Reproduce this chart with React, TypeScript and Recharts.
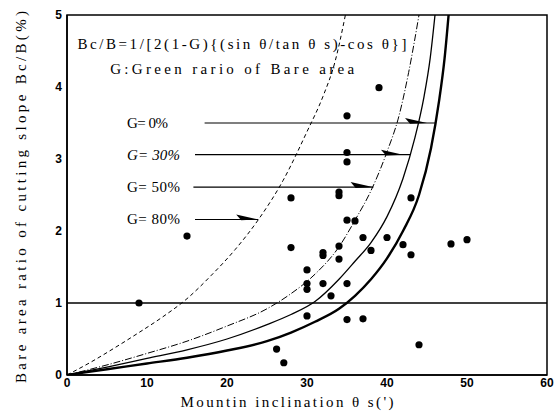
import React from 'react';
import {
  ComposedChart,
  Line,
  Scatter,
  XAxis,
  YAxis,
  ReferenceLine,
  ReferenceArea,
  ReferenceDot,
  Label,
} from 'recharts';

// axis ticks
const xTicks = [0, 10, 20, 30, 40, 50, 60];
const yTicks = [0, 1, 2, 3, 4, 5];

// curves, [θs, Bc/B]
const curveG0 = [[0, 0], [5, 0.08], [10, 0.16], [15, 0.24], [20, 0.34], [25, 0.47], [28, 0.59], [31, 0.74], [34, 0.92], [36, 1.1], [38, 1.33], [40, 1.62], [42, 2.0], [44, 2.5], [45.5, 3.15], [46.5, 3.8], [47.2, 4.4], [47.7, 5.0]];
const curveG30 = [[0, 0], [5, 0.11], [10, 0.23], [15, 0.35], [20, 0.5], [25, 0.7], [28, 0.84], [31, 1.02], [34, 1.33], [36, 1.58], [38, 1.84], [40, 2.2], [42, 2.73], [43.5, 3.3], [44.6, 3.85], [45.4, 4.4], [46, 5.0]];
const curveG50 = [[0, 0], [5, 0.14], [10, 0.3], [15, 0.47], [20, 0.68], [25, 0.92], [28, 1.13], [31, 1.4], [34, 1.78], [36, 2.15], [38, 2.56], [40, 3.1], [41.5, 3.6], [42.7, 4.2], [44, 5.0]];
const curveG80 = [[0, 0], [3, 0.18], [6, 0.38], [9, 0.59], [12, 0.81], [15, 1.06], [18, 1.38], [21, 1.74], [24, 2.17], [27, 2.7], [30, 3.38], [32, 3.87], [33.5, 4.35], [34.8, 5.0]];

// observed cutting slopes
const observed = [
  [9, 1.0], [15, 1.93], [26.2, 0.36], [27.1, 0.17], [28, 1.77], [28, 2.46],
  [30, 1.46], [30, 1.27], [30, 1.19], [30, 0.82], [32, 1.7], [32, 1.66],
  [32, 1.27], [33, 1.1], [34, 2.54], [34, 2.49], [34, 1.79], [34, 1.61],
  [35, 3.6], [35, 3.09], [35, 2.96], [35, 2.15], [35, 1.27], [35, 0.77],
  [36, 2.14], [37, 1.91], [37, 0.78], [38, 1.73], [39, 3.99], [40, 1.91],
  [42, 1.81], [43, 2.46], [43, 1.67], [44, 0.42], [48, 1.82], [50, 1.88],
];

// G labels and arrows
const gLabels = ['G= 0%', 'G= 30%', 'G= 50%', 'G= 80%'];
const arrowY = [3.5, 3.06, 2.61, 2.16];
const arrowFrom = [17.2, 16.0, 15.8, 16.0];
const arrowTo = [46.0, 42.9, 38.3, 23.9];
const arrowTip = [45.0, 42.0, 38.2, 23.9];

const formula = 'Bc/B=1/[2(1-G){(sin θ/tan θ s)-cos θ}]';
const legendNote = 'G:Green rario of Bare area';

const toPts = (arr: number[][]) => arr.map(([x, y]) => ({ x, y }));

const serif = 'Liberation Serif, DejaVu Serif, serif';

const Dot = (props: any) => <circle cx={props.cx} cy={props.cy} r={3.6} fill="#000" />;

const textAt = (str: string, len: number, italic = false) => (props: any) => (
  <text
    x={props.cx}
    y={props.cy}
    fontFamily={serif}
    fontSize={15}
    fontStyle={italic ? 'italic' : 'normal'}
    fill="#000"
    dominantBaseline="central"
    textLength={len}
    lengthAdjust="spacing"
  >
    {str}
  </text>
);

const arrowShape = (tipBack: number) => (props: any) => {
  const { x1, y1, x2, y2 } = props;
  const tip = x2 - tipBack;
  return (
    <g>
      <line x1={x1} y1={y1} x2={x2} y2={y2} stroke="#000" strokeWidth={1.2} />
      <polygon points={`${tip},${y2} ${tip - 22},${y2 - 5} ${tip - 17},${y2 + 0.8}`} fill="#000" />
    </g>
  );
};

export default function App() {
  const pxPerX = 480 / 60;
  return (
    <div style={{ position: 'absolute', left: 0, top: 0, background: '#fff' }}>
      <ComposedChart width={556} height={414} margin={{ top: 15, right: 9, left: 0, bottom: 0 }}>
        <XAxis
          type="number"
          dataKey="x"
          domain={[0, 60]}
          ticks={xTicks}
          allowDataOverflow
          height={39}
          tickLine={false}
          tickSize={0}
          tickMargin={3}
          axisLine={{ stroke: '#000', strokeWidth: 1.5 }}
          tick={{ fill: '#000', fontSize: 12, fontWeight: 'bold', fontFamily: 'Liberation Sans, Arial, sans-serif' }}
        >
          <Label
            content={(p: any) => {
              const vb = p.viewBox;
              return (
                <text
                  x={vb.x + vb.width / 2 - 20}
                  y={407}
                  textAnchor="middle"
                  fontFamily={serif}
                  fontSize={15}
                  fill="#000"
                  textLength={213}
                  lengthAdjust="spacing"
                >
                  Mountin inclination  θ s(')
                </text>
              );
            }}
          />
        </XAxis>
        <YAxis
          type="number"
          domain={[0, 5]}
          ticks={yTicks}
          allowDataOverflow
          width={67}
          tickLine={false}
          tickSize={0}
          tickMargin={5}
          axisLine={{ stroke: '#000', strokeWidth: 1.5 }}
          tick={{ fill: '#000', fontSize: 12, fontWeight: 'bold', fontFamily: 'Liberation Sans, Arial, sans-serif' }}
        >
          <Label
            content={(p: any) => {
              const vb = p.viewBox;
              const cx = vb.x + 21;
              const cy = vb.y + vb.height / 2 + 2;
              return (
                <text
                  x={cx}
                  y={cy}
                  transform={`rotate(-90 ${cx} ${cy})`}
                  textAnchor="middle"
                  dominantBaseline="central"
                  fontFamily={serif}
                  fontSize={15}
                  fill="#000"
                  textLength={372}
                  lengthAdjust="spacing"
                >
                  Bare area ratio of cutting slope Bc/B(%)
                </text>
              );
            }}
          />
        </YAxis>

        <ReferenceArea x1={0} x2={60} y1={0} y2={5} fill="none" stroke="#000" strokeWidth={1.5} ifOverflow="visible" />
        <ReferenceLine y={1} stroke="#000" strokeWidth={1.3} />

        <Line data={toPts(curveG80)} dataKey="y" type="monotone" stroke="#000" strokeWidth={1} strokeDasharray="4 3" dot={false} isAnimationActive={false} />
        <Line data={toPts(curveG50)} dataKey="y" type="monotone" stroke="#000" strokeWidth={1} strokeDasharray="7 2 1 2" dot={false} isAnimationActive={false} />
        <Line data={toPts(curveG30)} dataKey="y" type="monotone" stroke="#000" strokeWidth={1.3} dot={false} isAnimationActive={false} />
        <Line data={toPts(curveG0)} dataKey="y" type="monotone" stroke="#000" strokeWidth={2.4} dot={false} isAnimationActive={false} />

        <Scatter data={toPts(observed)} dataKey="y" shape={Dot} isAnimationActive={false} />

        {gLabels.map((g, i) => (
          <ReferenceLine
            key={'a' + g}
            segment={[{ x: arrowFrom[i], y: arrowY[i] }, { x: arrowTo[i], y: arrowY[i] }]}
            shape={arrowShape((arrowTo[i] - arrowTip[i]) * pxPerX)}
          />
        ))}
        {gLabels.map((g, i) => (
          <ReferenceDot key={'l' + g} x={7.5} y={arrowY[i]} shape={textAt(g, i === 0 ? 41 : 53, i === 1)} />
        ))}
        <ReferenceDot x={1.3} y={4.6} shape={textAt(formula, 329)} />
        <ReferenceDot x={5.4} y={4.25} shape={textAt(legendNote, 244)} />
      </ComposedChart>
    </div>
  );
}
